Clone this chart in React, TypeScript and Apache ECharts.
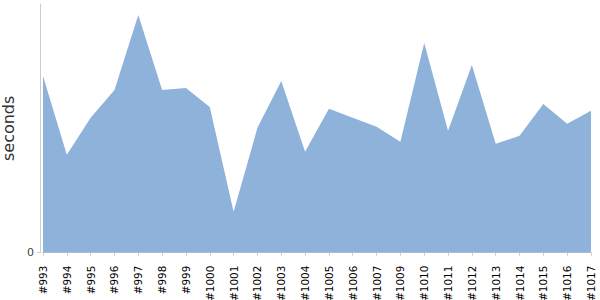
import React, { useEffect, useRef } from "react";
import * as echarts from "echarts";

const builds = [
  "#993", "#994", "#995", "#996", "#997", "#998", "#999", "#1000",
  "#1001", "#1002", "#1003", "#1004", "#1005", "#1006", "#1007", "#1009",
  "#1010", "#1011", "#1012", "#1013", "#1014", "#1015", "#1016", "#1017",
];
const seconds = [
  177, 98, 135, 163, 238, 163, 165, 146,
  41, 125, 172, 101, 144, 135, 126, 111,
  210, 122, 188, 109, 117, 149, 129, 142,
];
const yMax = 249;
const yTicks = [0];
const FONT = "'DejaVu Sans', sans-serif";

export default function App() {
  const ref = useRef<HTMLDivElement>(null);
  useEffect(() => {
    if (!ref.current) return;
    const chart = echarts.init(ref.current, null, { renderer: "svg" });
    chart.setOption({
      animation: false,
      grid: { left: 43, right: 9, top: 4, bottom: 47.3, containLabel: false, outerBoundsMode: "none" },
      xAxis: {
        type: "category",
        data: builds,
        boundaryGap: false,
        offset: 4,
        axisLine: { lineStyle: { color: "#cccccc", width: 1 } },
        axisTick: { alignWithLabel: true, length: 3, lineStyle: { color: "#cccccc" }, interval: 0 },
        axisLabel: {
          rotate: 90,
          interval: 0,
          margin: 9,
          color: "#000000",
          fontFamily: FONT,
          fontSize: 10.4,
        },
        splitLine: { show: false },
      },
      yAxis: {
        type: "value",
        min: 0,
        max: yMax,
        offset: 3,
        name: "seconds",
        nameLocation: "middle",
        nameRotate: 90,
        nameGap: 21,
        nameTextStyle: { color: "#333333", fontFamily: FONT, fontSize: 16 },
        axisLine: { show: true, lineStyle: { color: "#cccccc", width: 1 } },
        axisTick: { show: true, length: 3, lineStyle: { color: "#cccccc" }, customValues: yTicks },
        axisLabel: {
          customValues: yTicks,
          color: "#444444",
          fontFamily: FONT,
          fontSize: 11,
          margin: 6,
        },
        splitLine: { show: false },
      },
      series: [
        {
          type: "line",
          data: seconds,
          symbol: "none",
          lineStyle: { width: 0 },
          areaStyle: { color: "#8fb2db", opacity: 1 },
        },
      ],
    });
    return () => chart.dispose();
  }, []);
  return <div ref={ref} style={{ width: 600, height: 300, position: "absolute", left: 0, top: 0 }} />;
}
